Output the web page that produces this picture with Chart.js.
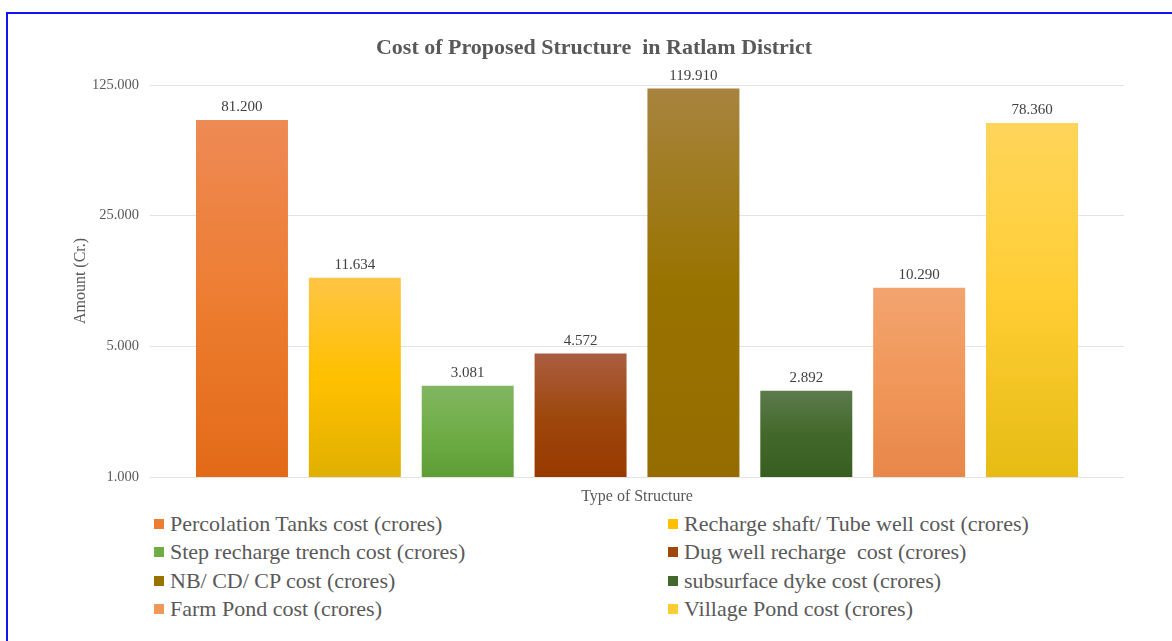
<!DOCTYPE html>
<html>
<head>
<meta charset="utf-8">
<script src="https://cdn.jsdelivr.net/npm/chart.js@4.4.1/dist/chart.umd.min.js"></script>
<style>
    html, body { margin: 0; padding: 0; background: #fff; overflow: hidden; }
    body { width: 1172px; height: 641px; position: relative; }
    .frame { position: absolute; left: 6px; top: 12px; width: 1300px; height: 800px; border: 2px solid #1414f0; }
    #chart-wrap { position: absolute; left: 0; top: 0; width: 1172px; height: 510px; }
    #legend { position: absolute; left: 154px; top: 510px; display: grid; grid-template-columns: 514px auto; row-gap: 0; font-family: "Liberation Serif", serif; font-size: 22px; color: #595959; }
    .item { display: flex; align-items: center; height: 28.3px; white-space: pre; }
    .swatch { width: 10px; height: 10px; margin-right: 6px; flex: none; }
</style>
</head>
<body>
<div class="frame"></div>
<div id="chart-wrap"><canvas id="cost-chart" width="1172" height="510"></canvas></div>
<div id="legend"></div>
<script>
const structureNames = [
    "Percolation Tanks cost (crores)",
    "Recharge shaft/ Tube well cost (crores)",
    "Step recharge trench cost (crores)",
    "Dug well recharge  cost (crores)",
    "NB/ CD/ CP cost (crores)",
    "subsurface dyke cost (crores)",
    "Farm Pond cost (crores)",
    "Village Pond cost (crores)",
];
const costValues = [81.2, 11.634, 3.081, 4.572, 119.91, 2.892, 10.29, 78.36];
const yTickValues = [1, 5, 25, 125];

// base colour, lighter top, darker bottom
const baseColors = ["#ED7D31", "#FFC000", "#70AD47", "#9E480E", "#997300", "#43682B", "#F1975A", "#FFCD33"];
const topColors = ["#EE8A55", "#FFC545", "#82B662", "#AA5E40", "#A7843F", "#5C7B4D", "#F2A46F", "#FFD55A"];
const bottomColors = ["#E26A17", "#E0B000", "#5E9E35", "#983A00", "#946C00", "#375E20", "#E8874A", "#E6BC14"];

const FONT = "'Liberation Serif', 'Times New Roman', serif";

function barGradient(index) {
    return (ctx) => {
        const chart = ctx.chart;
        const area = chart.chartArea;
        if (!area) return baseColors[index];
        const top = chart.scales.y.getPixelForValue(costValues[index]);
        const g = chart.ctx.createLinearGradient(0, top, 0, area.bottom);
        g.addColorStop(0, topColors[index]);
        g.addColorStop(0.5, baseColors[index]);
        g.addColorStop(1, bottomColors[index]);
        return g;
    };
}

const valueLabels = {
    id: "valueLabels",
    afterDatasetsDraw(chart) {
        const { ctx } = chart;
        ctx.save();
        ctx.font = `15px ${FONT}`;
        ctx.fillStyle = "#404040";
        ctx.textAlign = "center";
        ctx.textBaseline = "bottom";
        chart.data.datasets.forEach((ds, i) => {
            const bar = chart.getDatasetMeta(i).data[0];
            if (!bar) return;
            ctx.fillText(ds.data[0].toFixed(3), bar.x, bar.y - 5);
        });
        ctx.restore();
    },
};

const chart = new Chart(document.getElementById("cost-chart"), {
    type: "bar",
    data: {
        labels: [""],
        datasets: structureNames.map((name, i) => ({
            label: name,
            data: [costValues[i]],
            backgroundColor: barGradient(i),
            borderWidth: 0,
            categoryPercentage: 0.927,
            barPercentage: 0.815,
        })),
    },
    options: {
        responsive: false,
        animation: false,
        layout: { padding: { left: 64, right: 48, top: 0, bottom: 0 } },
        plugins: {
            legend: { display: false },
            tooltip: { enabled: false },
            title: {
                display: true,
                text: "Cost of Proposed Structure  in Ratlam District",
                color: "#595959",
                font: { family: FONT, size: 22, weight: "bold" },
                padding: { top: 35, bottom: 23.6 },
            },
        },
        scales: {
            x: {
                grid: { display: false },
                border: { display: false },
                ticks: { display: false },
                title: {
                    display: true,
                    text: "Type of Structure",
                    color: "#595959",
                    font: { family: FONT, size: 16 },
                    padding: { top: 0, bottom: 4 },
                },
                afterFit(scale) { scale.height = 33; },
            },
            y: {
                type: "logarithmic",
                min: 1,
                max: 125,
                afterBuildTicks(scale) { scale.ticks = yTickValues.map((v) => ({ value: v })); },
                afterFit(scale) { scale.width = 86; },
                grid: { color: "#e3e3e3", drawTicks: false },
                border: { display: false },
                ticks: {
                    padding: 11,
                    color: "#595959",
                    font: { family: FONT, size: 14.5 },
                    callback: (v) => Number(v).toFixed(3),
                },
                title: {
                    display: true,
                    text: "Amount (Cr.)",
                    color: "#595959",
                    font: { family: FONT, size: 16 },
                    padding: { top: 7, bottom: 0 },
                },
            },
        },
    },
    plugins: [valueLabels],
});

const legend = document.getElementById("legend");
legend.innerHTML = chart.data.datasets.map((ds, i) => `
    <div class="item"><span class="swatch" style="background:${baseColors[i]}"></span>${ds.label}</div>
`).join("");
</script>
</body>
</html>
